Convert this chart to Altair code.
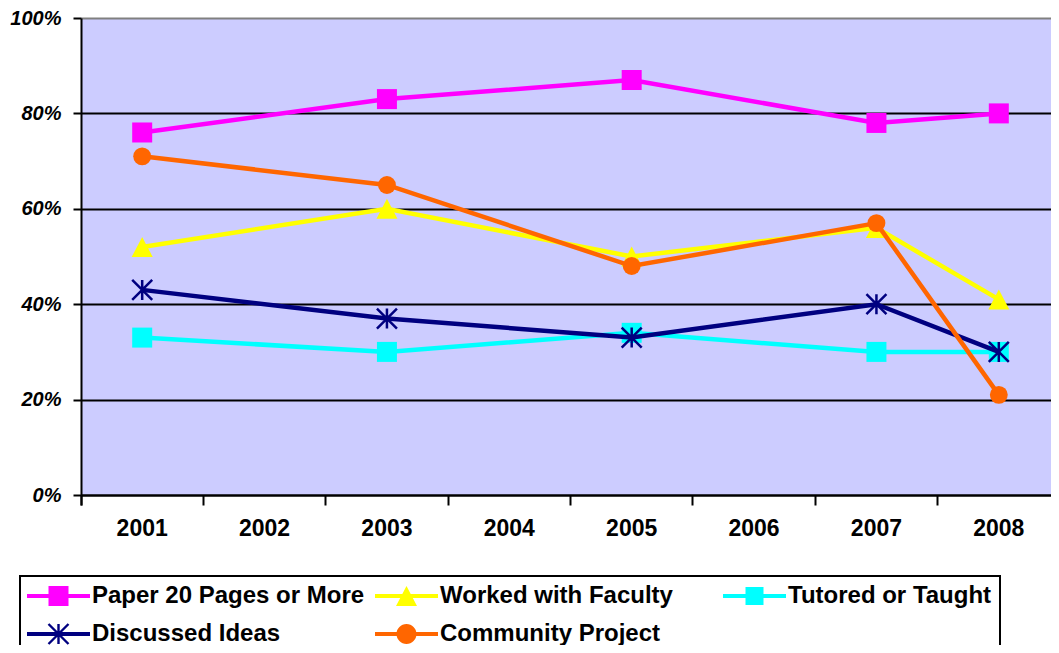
import altair as alt
import pandas as pd

# ---- data ----
years = ["2001", "2002", "2003", "2004", "2005", "2006", "2007", "2008"]
data_years = ["2001", "2003", "2005", "2007", "2008"]
series = ["Paper 20 Pages or More", "Worked with Faculty", "Tutored or Taught",
          "Discussed Ideas", "Community Project"]
paper = [0.76, 0.83, 0.87, 0.78, 0.80]
worked = [0.52, 0.60, 0.50, 0.56, 0.41]
tutored = [0.33, 0.30, 0.34, 0.30, 0.30]
discussed = [0.43, 0.37, 0.33, 0.40, 0.30]
community = [0.71, 0.65, 0.48, 0.57, 0.21]
y_ticks = [0, 0.2, 0.4, 0.6, 0.8, 1.0]

colors = ["#FF00FF", "#FFFF00", "#00FFFF", "#000080", "#FF6600"]

values = [paper, worked, tutored, discussed, community]
rows = []
for name, vals in zip(series, values):
    for yr, v in zip(data_years, vals):
        rows.append({"year": yr, "series": name, "value": v})
df = pd.DataFrame(rows)

FONT = "Liberation Sans"

# marker shapes in the plot
plot_shapes = [
    "M-1,-1H1V1H-1Z",                                # square
    "M0,-1L1.05,1H-1.05Z",                           # triangle
    "M-1,-1H1V1H-1Z",                                # square
    "M0,-1V1M-1,-1L1,1M-1,1L1,-1",                   # asterisk (stroked)
    "circle",
]

# legend symbols: line segment + marker (all filled, same winding)
LINE = "M-1.3,-0.2H5.0V0.2H-1.3Z"
legend_shapes = [
    LINE + "M0.85,-1H2.85V1H0.85Z",
    LINE + "M1.85,-1L2.9,1H0.8Z",
    LINE + "M0.95,-0.9H2.75V0.9H0.95Z",
    LINE + "M1.73,-1H1.97V1H1.73Z"
           "M0.935,-1.085L2.935,0.915L2.765,1.085L0.765,-0.915Z"
           "M0.765,0.915L2.765,-1.085L2.935,-0.915L0.935,1.085Z",
    LINE + "M0.85,0A1,1 0 1,1 2.85,0A1,1 0 1,1 0.85,0Z",
]

x_enc = alt.X(
    "year:N",
    scale=alt.Scale(type="band", domain=years, range=[0, 979], paddingInner=0, paddingOuter=0),
    bandPosition=0.5,
    axis=alt.Axis(
        title=None, grid=False, labelAngle=0, bandPosition=0, tickExtra=True,
        domainColor="black", domainWidth=2, tickColor="black", tickWidth=2, tickSize=10,
        labelFont=FONT, labelFontSize=23, labelFontWeight="bold", labelColor="black",
        labelPadding=12,
    ),
)
y_enc = alt.Y(
    "value:Q",
    scale=alt.Scale(domain=[0, 1]),
    axis=alt.Axis(
        title=None, values=y_ticks, format=".0%", grid=True,
        gridColor={"condition": {"test": "datum.value >= 1", "value": "#808080"}, "value": "black"},
        gridWidth=2,
        domainColor="black", domainWidth=2, tickColor="black", tickWidth=2, tickSize=8,
        labelFont=FONT, labelFontSize=20, labelFontWeight="bold", labelFontStyle="italic",
        labelColor="black", labelPadding=12,
    ),
)

base = alt.Chart(df)
layers = []
for name, col, shp in zip(series, colors, plot_shapes):
    sub = base.transform_filter(alt.datum.series == name)
    layers.append(sub.mark_line(color=col, strokeWidth=4.5).encode(x=x_enc, y=y_enc))
    if shp.startswith("M0,-1V1"):
        pt = sub.mark_point(shape=shp, filled=False, color=col, strokeWidth=2.5, size=400, opacity=1)
    elif shp == "circle":
        pt = sub.mark_point(shape=shp, filled=True, color=col, size=320, opacity=1)
    else:
        pt = sub.mark_point(shape=shp, filled=True, color=col, size=400, opacity=1)
    layers.append(pt.encode(x=x_enc, y=y_enc))

legend_cfg = dict(
    orient="none", legendX=-61, legendY=558, columns=3, direction="horizontal", title=None,
    labelFont=FONT, labelFontSize=24, labelFontWeight="bold", labelColor="black",
    labelLimit=400, labelOffset=40, symbolSize=400, columnPadding=10, rowPadding=14,
    padding=8, strokeColor="black", gridAlign="all", symbolStrokeWidth=0, symbolOpacity=1,
)
legend_layer = base.transform_filter("false").mark_point(filled=True, opacity=1).encode(
    x=x_enc,
    y=y_enc,
    color=alt.Color("series:N", scale=alt.Scale(domain=series, range=colors),
                    legend=alt.Legend(**legend_cfg)),
    shape=alt.Shape("series:N", scale=alt.Scale(domain=series, range=legend_shapes),
                    legend=alt.Legend(**legend_cfg)),
)
layers.append(legend_layer)

chart = alt.layer(*layers).properties(
    width=970,
    height=477,
    background="white",
    padding={"left": 73, "top": 10, "right": 0, "bottom": 150},
    autosize=alt.AutoSizeParams(type="none"),
).configure_view(
    fill="#CCCCFF", strokeWidth=0
).configure_legend(
    strokeWidth=2
)

chart.save("out.html", embed_options={"renderer": "svg", "actions": False})
